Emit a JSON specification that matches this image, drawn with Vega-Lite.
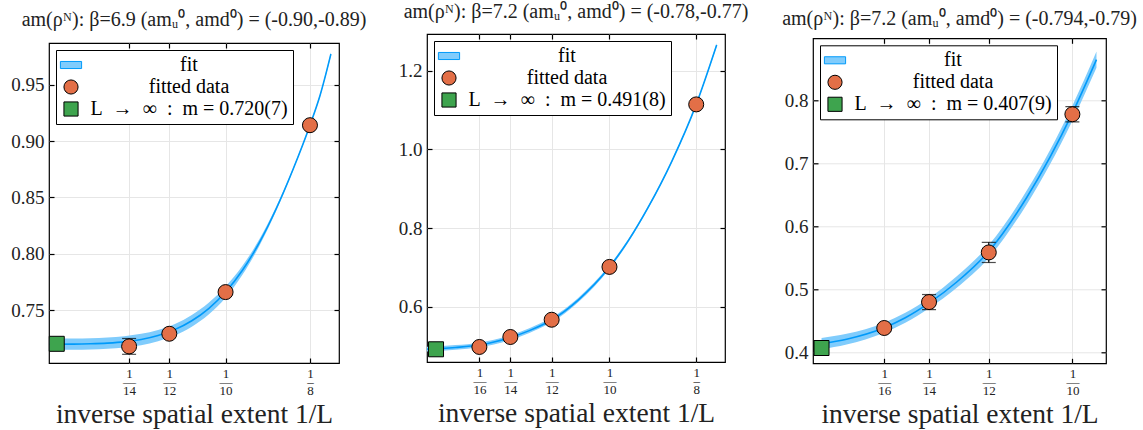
{
  "$schema": "https://vega.github.io/schema/vega-lite/v6.json",
  "padding": {"left": 10, "top": 0, "right": 0, "bottom": 0},
  "background": "white",
  "datasets": {
    "c1": [
      {"x": 0.0477, "y": 0.7200, "lo": 0.7150, "hi": 0.7250},
      {"x": 0.055, "y": 0.7201, "lo": 0.7151, "hi": 0.7251},
      {"x": 0.06, "y": 0.7204, "lo": 0.7154, "hi": 0.7254},
      {"x": 0.065, "y": 0.7210, "lo": 0.7160, "hi": 0.7260},
      {"x": 0.07, "y": 0.7221, "lo": 0.7171, "hi": 0.7271},
      {"x": 0.075, "y": 0.7242, "lo": 0.7192, "hi": 0.7292},
      {"x": 0.08, "y": 0.7277, "lo": 0.7227, "hi": 0.7327},
      {"x": 0.085, "y": 0.7330, "lo": 0.7280, "hi": 0.7380},
      {"x": 0.09, "y": 0.7408, "lo": 0.7356, "hi": 0.7460},
      {"x": 0.095, "y": 0.7516, "lo": 0.7464, "hi": 0.7568},
      {"x": 0.1, "y": 0.7662, "lo": 0.7612, "hi": 0.7712},
      {"x": 0.105, "y": 0.7855, "lo": 0.7815, "hi": 0.7895},
      {"x": 0.11, "y": 0.8100, "lo": 0.8070, "hi": 0.8130},
      {"x": 0.115, "y": 0.8400, "lo": 0.8380, "hi": 0.8420},
      {"x": 0.12, "y": 0.8750, "lo": 0.8738, "hi": 0.8762},
      {"x": 0.125, "y": 0.9140, "lo": 0.9132, "hi": 0.9148},
      {"x": 0.128, "y": 0.9405, "lo": 0.9395, "hi": 0.9415},
      {"x": 0.1312, "y": 0.9770, "lo": 0.9755, "hi": 0.9785}
    ],
    "p1": [
      {"x": 0.0714286, "y": 0.7181, "lo": 0.7111, "hi": 0.7251, "series": "fitted data"},
      {"x": 0.0833333, "y": 0.7293, "lo": 0.7273, "hi": 0.7313, "series": "fitted data"},
      {"x": 0.1, "y": 0.7662, "lo": 0.7642, "hi": 0.7682, "series": "fitted data"},
      {"x": 0.125, "y": 0.9140, "lo": 0.9120, "hi": 0.9160, "series": "fitted data"},
      {"x": 0.05, "y": 0.7204, "series": "L\u2002→\u2002∞\u2002:\u2002m = 0.720(7)"}
    ],
    "c2": [
      {"x": 0.0474, "y": 0.4925, "lo": 0.4865, "hi": 0.4985},
      {"x": 0.05, "y": 0.4935, "lo": 0.4875, "hi": 0.4995},
      {"x": 0.0556, "y": 0.4968, "lo": 0.4908, "hi": 0.5028},
      {"x": 0.0625, "y": 0.5030, "lo": 0.4970, "hi": 0.5090},
      {"x": 0.0667, "y": 0.5105, "lo": 0.5045, "hi": 0.5165},
      {"x": 0.0714, "y": 0.5220, "lo": 0.5160, "hi": 0.5280},
      {"x": 0.0769, "y": 0.5395, "lo": 0.5335, "hi": 0.5455},
      {"x": 0.0833, "y": 0.5665, "lo": 0.5605, "hi": 0.5725},
      {"x": 0.0909, "y": 0.6165, "lo": 0.6110, "hi": 0.6220},
      {"x": 0.1, "y": 0.7010, "lo": 0.6960, "hi": 0.7060},
      {"x": 0.1053, "y": 0.7660, "lo": 0.7620, "hi": 0.7700},
      {"x": 0.1111, "y": 0.8516, "lo": 0.8481, "hi": 0.8551},
      {"x": 0.118, "y": 0.9700, "lo": 0.9670, "hi": 0.9730},
      {"x": 0.125, "y": 1.1140, "lo": 1.1120, "hi": 1.1160},
      {"x": 0.1309, "y": 1.2650, "lo": 1.2610, "hi": 1.2690}
    ],
    "p2": [
      {"x": 0.0625, "y": 0.4980, "lo": 0.4950, "hi": 0.5010, "series": "fitted data"},
      {"x": 0.0714286, "y": 0.5233, "lo": 0.5203, "hi": 0.5263, "series": "fitted data"},
      {"x": 0.0833333, "y": 0.5671, "lo": 0.5641, "hi": 0.5701, "series": "fitted data"},
      {"x": 0.1, "y": 0.7013, "lo": 0.6983, "hi": 0.7043, "series": "fitted data"},
      {"x": 0.125, "y": 1.1140, "lo": 1.1110, "hi": 1.1170, "series": "fitted data"},
      {"x": 0.05, "y": 0.4921, "series": "L\u2002→\u2002∞\u2002:\u2002m = 0.491(8)"}
    ],
    "c3": [
      {"x": 0.05, "y": 0.4138, "lo": 0.4048, "hi": 0.4228},
      {"x": 0.055, "y": 0.4208, "lo": 0.4123, "hi": 0.4293},
      {"x": 0.0625, "y": 0.4390, "lo": 0.4310, "hi": 0.4470},
      {"x": 0.0667, "y": 0.4548, "lo": 0.4468, "hi": 0.4628},
      {"x": 0.0714, "y": 0.4780, "lo": 0.4700, "hi": 0.4860},
      {"x": 0.0769, "y": 0.5113, "lo": 0.5023, "hi": 0.5203},
      {"x": 0.0833, "y": 0.5600, "lo": 0.5500, "hi": 0.5700},
      {"x": 0.0909, "y": 0.6460, "lo": 0.6350, "hi": 0.6570},
      {"x": 0.1, "y": 0.7800, "lo": 0.7680, "hi": 0.7920},
      {"x": 0.1048, "y": 0.8650, "lo": 0.8520, "hi": 0.8780}
    ],
    "p3": [
      {"x": 0.0625, "y": 0.4386, "lo": 0.4336, "hi": 0.4436, "series": "fitted data"},
      {"x": 0.0714286, "y": 0.4798, "lo": 0.4678, "hi": 0.4918, "series": "fitted data"},
      {"x": 0.0833333, "y": 0.5587, "lo": 0.5427, "hi": 0.5747, "series": "fitted data"},
      {"x": 0.1, "y": 0.7783, "lo": 0.7663, "hi": 0.7903, "series": "fitted data"},
      {"x": 0.05, "y": 0.4068, "series": "L\u2002→\u2002∞\u2002:\u2002m = 0.407(9)"}
    ]
  },
  "hconcat": [
    {"vconcat": [
    {"width": 1, "height": 1, "data": {"values": []}, "mark": "point", "view": {"stroke": null}},
    {
      "width": 290, "height": 320,
      "title": {"text": "am(ρᴺ):  β=6.9 (amᵤ⁰, amd⁰) = (-0.90,-0.89)", "offset": 12.5},
      "layer": [
        {"data": {"name": "c1"}, "mark": {"type": "area", "opacity": 1, "interpolate": "monotone"},
         "encoding": {
           "x": {"field": "x", "type": "quantitative", "scale": {"domain": [0.0477, 0.1336], "nice": false, "zero": false},
                 "axis": {"orient": "top", "labels": false, "grid": false, "title": null, "values": [0.0714286, 0.0833333, 0.1, 0.125]}},
           "y": {"field": "lo", "type": "quantitative", "scale": {"domain": [0.7034, 0.9868], "nice": false, "zero": false},
                 "axis": {"orient": "right", "labels": false, "grid": false, "title": null, "values": [0.75, 0.8, 0.85, 0.9, 0.95]}},
           "y2": {"field": "hi"},
           "color": {"datum": "fit", "type": "nominal",
             "scale": {"domain": ["fit", "fitted data", "L\u2002→\u2002∞\u2002:\u2002m = 0.720(7)"], "range": ["#80CCFC", "#E36F47", "#3EA44E"]},
             "legend": {"title": null}}
         }},
        {"data": {"name": "c1"}, "mark": {"type": "line", "color": "#009AFA", "strokeWidth": 1.6, "interpolate": "monotone"},
         "encoding": {
           "x": {"field": "x", "type": "quantitative",
                 "axis": {"orient": "bottom", "grid": true, "title": "inverse spatial extent 1/L", "values": [0.0714286, 0.0833333, 0.1, 0.125],
                          "labelExpr": "['1', datum.value > 0.11 ? '–' : '—', format(round(1/datum.value), 'd')]"}},
           "y": {"field": "y", "type": "quantitative",
                 "axis": {"orient": "left", "grid": true, "title": null, "format": ".2f", "values": [0.75, 0.8, 0.85, 0.9, 0.95]}}
         }},
        {"data": {"name": "p1"}, "mark": {"type": "rule", "color": "black", "strokeWidth": 1.2},
         "encoding": {"x": {"field": "x", "type": "quantitative", "axis": null}, "y": {"field": "lo", "type": "quantitative", "axis": null}, "y2": {"field": "hi"}}},
        {"data": {"name": "p1"}, "mark": {"type": "tick", "orient": "horizontal", "color": "black", "size": 14, "thickness": 1.2},
         "encoding": {"x": {"field": "x", "type": "quantitative", "axis": null}, "y": {"field": "lo", "type": "quantitative", "axis": null}}},
        {"data": {"name": "p1"}, "mark": {"type": "tick", "orient": "horizontal", "color": "black", "size": 14, "thickness": 1.2},
         "encoding": {"x": {"field": "x", "type": "quantitative", "axis": null}, "y": {"field": "hi", "type": "quantitative", "axis": null}}},
        {"data": {"name": "p1"}, "mark": {"type": "point", "filled": true, "opacity": 1, "strokeWidth": 1, "size": 225},
         "encoding": {
           "x": {"field": "x", "type": "quantitative", "axis": null},
           "y": {"field": "y", "type": "quantitative", "axis": null},
           "color": {"field": "series", "type": "nominal", "legend": {"title": null}},
           "shape": {"field": "series", "type": "nominal",
             "scale": {"domain": ["fit", "fitted data", "L\u2002→\u2002∞\u2002:\u2002m = 0.720(7)"], "range": ["M-1.5,-0.5H1.5V0.5H-1.5Z", "circle", "square"]},
             "legend": {"title": null}},
           "stroke": {"field": "series", "type": "nominal",
             "scale": {"domain": ["fit", "fitted data", "L\u2002→\u2002∞\u2002:\u2002m = 0.720(7)"], "range": ["#009AFA", "black", "black"]},
             "legend": {"title": null}}
         }}
      ],
      "resolve": {"axis": {"x": "independent", "y": "independent"}}
    }],
    "spacing": 8,
    "resolve": {"scale": {"color": "independent", "shape": "independent", "stroke": "independent"}, "legend": {"color": "independent", "shape": "independent", "stroke": "independent"}}},
    {"vconcat": [
    {"width": 1, "height": 1, "data": {"values": []}, "mark": "point", "view": {"stroke": null}},
    {
      "width": 298, "height": 328,
      "title": {"text": "am(ρᴺ):  β=7.2 (amᵤ⁰, amd⁰) = (-0.78,-0.77)", "offset": 11.5},
      "layer": [
        {"data": {"name": "c2"}, "mark": {"type": "area", "opacity": 1, "interpolate": "monotone"},
         "encoding": {
           "x": {"field": "x", "type": "quantitative", "scale": {"domain": [0.0474, 0.1333], "nice": false, "zero": false},
                 "axis": {"orient": "top", "labels": false, "grid": false, "title": null, "values": [0.0625, 0.0714286, 0.0833333, 0.1, 0.125]}},
           "y": {"field": "lo", "type": "quantitative", "scale": {"domain": [0.4598, 1.2928], "nice": false, "zero": false},
                 "axis": {"orient": "right", "labels": false, "grid": false, "title": null, "values": [0.6, 0.8, 1.0, 1.2]}},
           "y2": {"field": "hi"},
           "color": {"datum": "fit", "type": "nominal",
             "scale": {"domain": ["fit", "fitted data", "L\u2002→\u2002∞\u2002:\u2002m = 0.491(8)"], "range": ["#80CCFC", "#E36F47", "#3EA44E"]},
             "legend": {"title": null}}
         }},
        {"data": {"name": "c2"}, "mark": {"type": "line", "color": "#009AFA", "strokeWidth": 1.6, "interpolate": "monotone"},
         "encoding": {
           "x": {"field": "x", "type": "quantitative",
                 "axis": {"orient": "bottom", "grid": true, "title": "inverse spatial extent 1/L", "values": [0.0625, 0.0714286, 0.0833333, 0.1, 0.125],
                          "labelExpr": "['1', datum.value > 0.11 ? '–' : '—', format(round(1/datum.value), 'd')]"}},
           "y": {"field": "y", "type": "quantitative",
                 "axis": {"orient": "left", "grid": true, "title": null, "format": ".1f", "values": [0.6, 0.8, 1.0, 1.2]}}
         }},
        {"data": {"name": "p2"}, "mark": {"type": "rule", "color": "black", "strokeWidth": 1.2},
         "encoding": {"x": {"field": "x", "type": "quantitative", "axis": null}, "y": {"field": "lo", "type": "quantitative", "axis": null}, "y2": {"field": "hi"}}},
        {"data": {"name": "p2"}, "mark": {"type": "point", "filled": true, "opacity": 1, "strokeWidth": 1, "size": 225},
         "encoding": {
           "x": {"field": "x", "type": "quantitative", "axis": null},
           "y": {"field": "y", "type": "quantitative", "axis": null},
           "color": {"field": "series", "type": "nominal", "legend": {"title": null}},
           "shape": {"field": "series", "type": "nominal",
             "scale": {"domain": ["fit", "fitted data", "L\u2002→\u2002∞\u2002:\u2002m = 0.491(8)"], "range": ["M-1.5,-0.5H1.5V0.5H-1.5Z", "circle", "square"]},
             "legend": {"title": null}},
           "stroke": {"field": "series", "type": "nominal",
             "scale": {"domain": ["fit", "fitted data", "L\u2002→\u2002∞\u2002:\u2002m = 0.491(8)"], "range": ["#009AFA", "black", "black"]},
             "legend": {"title": null}}
         }}
      ],
      "resolve": {"axis": {"x": "independent", "y": "independent"}}
    }],
    "spacing": 0,
    "resolve": {"scale": {"color": "independent", "shape": "independent", "stroke": "independent"}, "legend": {"color": "independent", "shape": "independent", "stroke": "independent"}}},
    {"vconcat": [
    {"width": 1, "height": 1, "data": {"values": []}, "mark": "point", "view": {"stroke": null}},
    {
      "width": 293, "height": 325,
      "title": {"text": "am(ρᴺ):  β=7.2 (amᵤ⁰, amd⁰) = (-0.794,-0.79)", "offset": 9.2},
      "layer": [
        {"data": {"name": "c3"}, "mark": {"type": "area", "opacity": 1, "interpolate": "monotone"},
         "encoding": {
           "x": {"field": "x", "type": "quantitative", "scale": {"domain": [0.0483, 0.1067], "nice": false, "zero": false},
                 "axis": {"orient": "top", "labels": false, "grid": false, "title": null, "values": [0.0625, 0.0714286, 0.0833333, 0.1]}},
           "y": {"field": "lo", "type": "quantitative", "scale": {"domain": [0.3825, 0.899], "nice": false, "zero": false},
                 "axis": {"orient": "right", "labels": false, "grid": false, "title": null, "values": [0.4, 0.5, 0.6, 0.7, 0.8]}},
           "y2": {"field": "hi"},
           "color": {"datum": "fit", "type": "nominal",
             "scale": {"domain": ["fit", "fitted data", "L\u2002→\u2002∞\u2002:\u2002m = 0.407(9)"], "range": ["#80CCFC", "#E36F47", "#3EA44E"]},
             "legend": {"title": null}}
         }},
        {"data": {"name": "c3"}, "mark": {"type": "line", "color": "#009AFA", "strokeWidth": 1.6, "interpolate": "monotone"},
         "encoding": {
           "x": {"field": "x", "type": "quantitative",
                 "axis": {"orient": "bottom", "grid": true, "title": "inverse spatial extent 1/L", "values": [0.0625, 0.0714286, 0.0833333, 0.1],
                          "labelExpr": "['1', datum.value > 0.11 ? '–' : '—', format(round(1/datum.value), 'd')]"}},
           "y": {"field": "y", "type": "quantitative",
                 "axis": {"orient": "left", "grid": true, "title": null, "format": ".1f", "values": [0.4, 0.5, 0.6, 0.7, 0.8]}}
         }},
        {"data": {"name": "p3"}, "mark": {"type": "rule", "color": "black", "strokeWidth": 1.2},
         "encoding": {"x": {"field": "x", "type": "quantitative", "axis": null}, "y": {"field": "lo", "type": "quantitative", "axis": null}, "y2": {"field": "hi"}}},
        {"data": {"name": "p3"}, "mark": {"type": "tick", "orient": "horizontal", "color": "black", "size": 14, "thickness": 1.2},
         "encoding": {"x": {"field": "x", "type": "quantitative", "axis": null}, "y": {"field": "lo", "type": "quantitative", "axis": null}}},
        {"data": {"name": "p3"}, "mark": {"type": "tick", "orient": "horizontal", "color": "black", "size": 14, "thickness": 1.2},
         "encoding": {"x": {"field": "x", "type": "quantitative", "axis": null}, "y": {"field": "hi", "type": "quantitative", "axis": null}}},
        {"data": {"name": "p3"}, "mark": {"type": "point", "filled": true, "opacity": 1, "strokeWidth": 1, "size": 225},
         "encoding": {
           "x": {"field": "x", "type": "quantitative", "axis": null},
           "y": {"field": "y", "type": "quantitative", "axis": null},
           "color": {"field": "series", "type": "nominal", "legend": {"title": null}},
           "shape": {"field": "series", "type": "nominal",
             "scale": {"domain": ["fit", "fitted data", "L\u2002→\u2002∞\u2002:\u2002m = 0.407(9)"], "range": ["M-1.5,-0.5H1.5V0.5H-1.5Z", "circle", "square"]},
             "legend": {"title": null}},
           "stroke": {"field": "series", "type": "nominal",
             "scale": {"domain": ["fit", "fitted data", "L\u2002→\u2002∞\u2002:\u2002m = 0.407(9)"], "range": ["#009AFA", "black", "black"]},
             "legend": {"title": null}}
         }}
      ],
      "resolve": {"axis": {"x": "independent", "y": "independent"}}
    }],
    "spacing": 6.3,
    "resolve": {"scale": {"color": "independent", "shape": "independent", "stroke": "independent"}, "legend": {"color": "independent", "shape": "independent", "stroke": "independent"}}}
  ],
  "spacing": 27,
  "resolve": {
    "scale": {"x": "independent", "y": "independent", "color": "independent", "shape": "independent", "stroke": "independent"},
    "legend": {"color": "independent", "shape": "independent", "stroke": "independent"}
  },
  "config": {
    "font": "Liberation Serif",
    "view": {"stroke": "black", "strokeWidth": 1.2},
    "axis": {
      "domain": false, "gridColor": "#e6e6e6", "gridWidth": 1,
      "tickColor": "black", "tickWidth": 1.2, "tickSize": -5,
      "labelFont": "Liberation Serif", "labelFontSize": 19, "labelColor": "#222", "labelPadding": 10,
      "titleFont": "Liberation Serif", "titleFontSize": 27.5, "titleFontWeight": "normal", "titleColor": "#222"
    },
    "axisBottom": {"labelFontSize": 13, "labelLineHeight": 8.5, "labelPadding": 9, "titlePadding": 3},
    "title": {"font": "Liberation Serif", "fontSize": 20, "fontWeight": "normal", "color": "#222", "baseline": "bottom", "anchor": "middle"},
    "legend": {
      "orient": "top-left", "offset": 7, "fillColor": "white", "strokeColor": "black",
      "padding": 5, "rowPadding": 2, "labelFont": "Liberation Serif", "labelFontSize": 20,
      "labelColor": "black", "labelAlign": "center", "labelOffset": 108, "labelLimit": 500,
      "symbolSize": 200, "symbolStrokeWidth": 1
    }
  }
}
